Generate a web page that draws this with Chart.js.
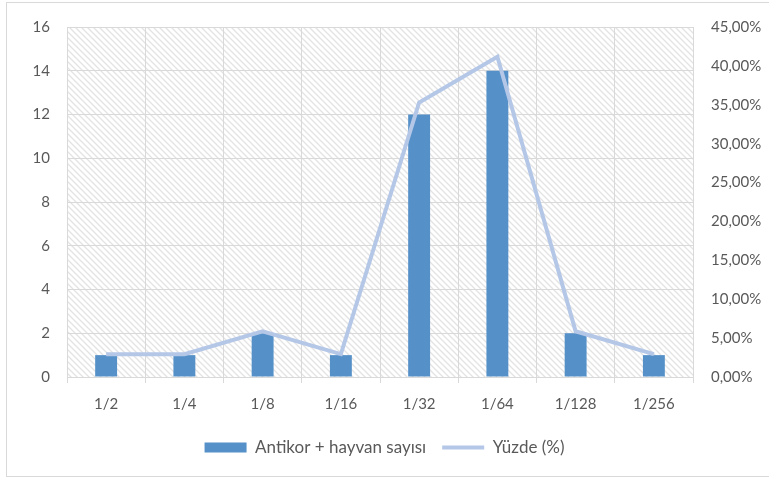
<!DOCTYPE html>
<html>
<head>
<meta charset="utf-8">
<script src="https://cdn.jsdelivr.net/npm/chart.js@4"></script>
<style>
  html, body { margin: 0; padding: 0; background: #fff; }
  #wrap { width: 769px; height: 479px; }
</style>
</head>
<body>
<div id="wrap"><canvas id="grafica" width="769" height="479"></canvas></div>
<script>
// datos
const categorias = ['1/2', '1/4', '1/8', '1/16', '1/32', '1/64', '1/128', '1/256'];
const hayvanSayisi = [1, 1, 2, 1, 12, 14, 2, 1];
const yuzde = [2.94, 2.94, 5.88, 2.94, 35.29, 41.18, 5.88, 2.94];
const etiquetaBarras = 'Antikor + hayvan sayısı';
const etiquetaLinea = 'Yüzde (%)';

const gris = '#595959';
const lineaGrid = '#d9d9d9';
const fuente = { family: 'Lato, "Open Sans", sans-serif', size: 15 };

function patronRayado(ctx) {
    const c = document.createElement('canvas');
    c.width = 6;
    c.height = 6;
    const p = c.getContext('2d');
    p.strokeStyle = '#e3e3e3';
    p.lineWidth = 1.3;
    p.beginPath();
    p.moveTo(-1, -1); p.lineTo(7, 7);
    p.moveTo(-7, -1); p.lineTo(1, 7);
    p.moveTo(5, -1); p.lineTo(13, 7);
    p.stroke();
    return ctx.createPattern(c, 'repeat');
}

const fondoPlugin = {
    id: 'fondo',
    beforeDraw(chart) {
        const ctx = chart.ctx;
        const a = chart.chartArea;
        ctx.save();
        ctx.fillStyle = '#fff';
        ctx.fillRect(0, 0, chart.width, chart.height);
        ctx.strokeStyle = lineaGrid;
        ctx.lineWidth = 1;
        ctx.strokeRect(6.5, 2.5, chart.width + 10, 474);
        ctx.fillStyle = patronRayado(ctx);
        ctx.fillRect(a.left, a.top, a.right - a.left, a.bottom - a.top);
        ctx.restore();
    }
};

function formatoPorcentaje(v) {
    return v.toFixed(2).replace('.', ',') + '%';
}

const ctx = document.getElementById('grafica').getContext('2d');
new Chart(ctx, {
    data: {
        labels: categorias,
        datasets: [
            {
                type: 'bar',
                label: etiquetaBarras,
                data: hayvanSayisi,
                backgroundColor: '#5590c8',
                borderWidth: 0,
                barPercentage: 0.56,
                categoryPercentage: 0.5,
                yAxisID: 'y',
                order: 1,
                pointStyle: 'rect'
            },
            {
                type: 'line',
                label: etiquetaLinea,
                data: yuzde,
                borderColor: '#b4c7e7',
                backgroundColor: '#b4c7e7',
                borderWidth: 4,
                pointRadius: 0,
                tension: 0,
                yAxisID: 'y1',
                order: 0,
                pointStyle: 'line'
            }
        ]
    },
    options: {
        responsive: false,
        animation: false,
        layout: { padding: { left: 0, right: 0, top: 26, bottom: 13 } },
        scales: {
            x: {
                grid: { color: lineaGrid, offset: true, drawTicks: true, tickLength: 6, tickColor: lineaGrid },
                border: { color: lineaGrid },
                ticks: { color: gris, font: fuente, padding: 12 },
                afterFit(scale) { scale.height = 46; }
            },
            y: {
                position: 'left',
                min: 0,
                max: 16,
                grid: { color: lineaGrid, drawTicks: false },
                border: { display: false },
                ticks: { stepSize: 2, color: gris, font: fuente, padding: 17 },
                afterFit(scale) { scale.width = 67; }
            },
            y1: {
                position: 'right',
                min: 0,
                max: 45,
                grid: { display: false, drawTicks: false },
                border: { display: false },
                ticks: { stepSize: 5, color: gris, font: fuente, padding: 18, callback: formatoPorcentaje },
                afterFit(scale) { scale.width = 76; }
            }
        },
        plugins: {
            legend: {
                position: 'bottom',
                labels: {
                    color: gris,
                    font: { family: fuente.family, size: 17 },
                    usePointStyle: true,
                    pointStyleWidth: 42,
                    boxHeight: 10,
                    padding: 16,
                    sort: (a, b) => a.datasetIndex - b.datasetIndex
                }
            },
            tooltip: { enabled: false }
        }
    },
    plugins: [fondoPlugin]
});
</script>
</body>
</html>
